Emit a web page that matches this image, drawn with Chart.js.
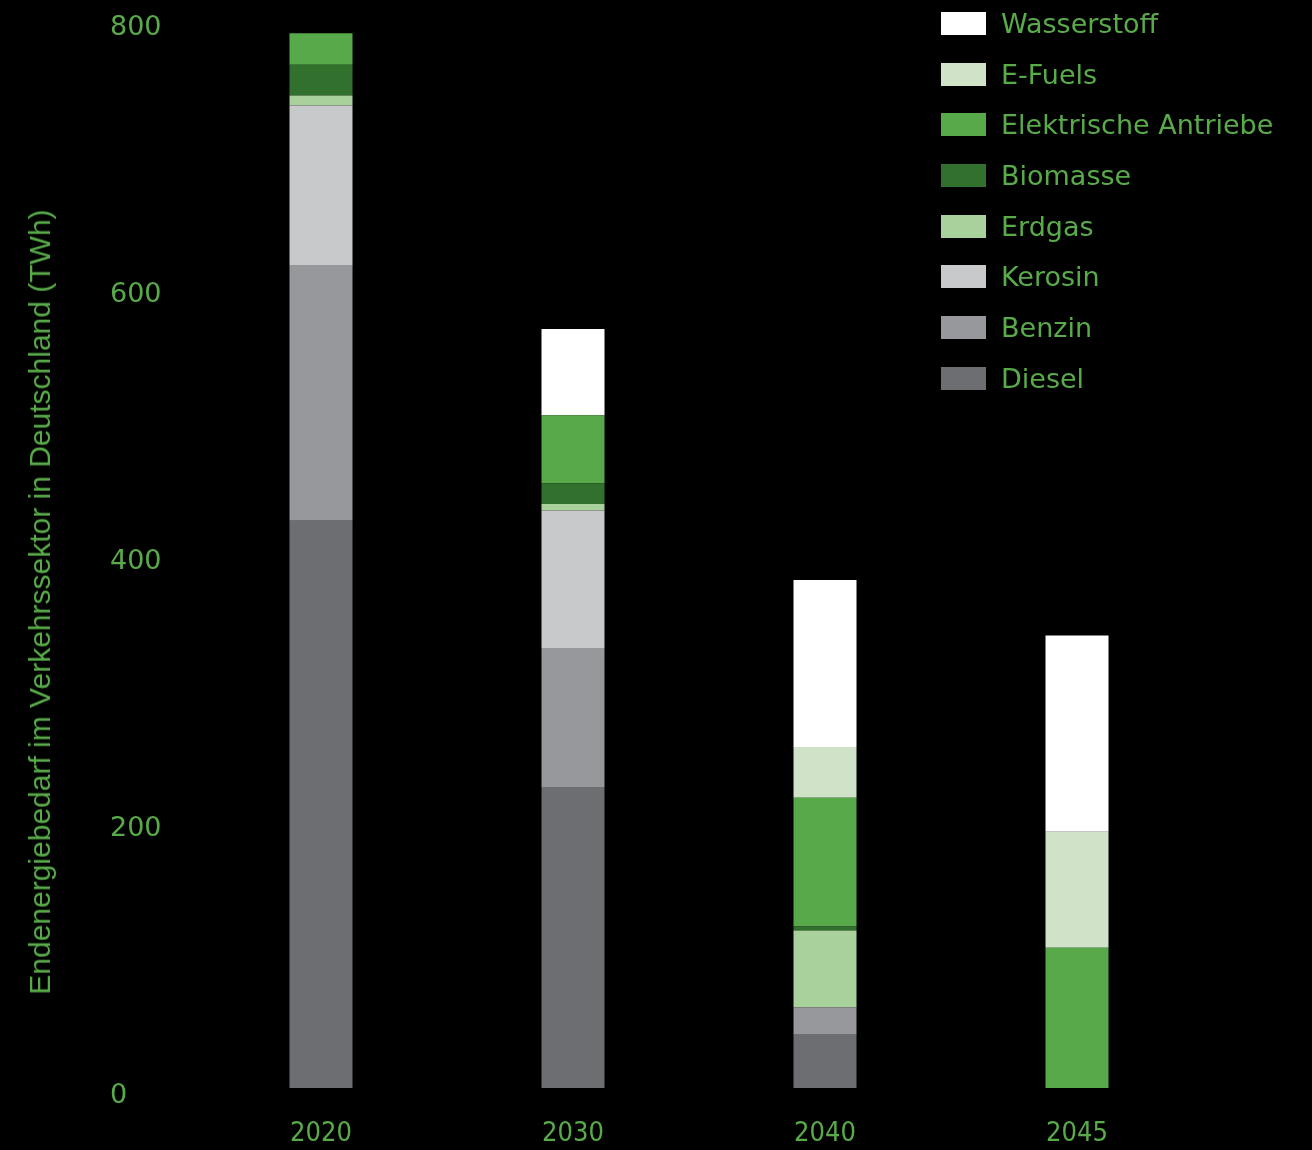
<!DOCTYPE html>
<html>
<head>
<meta charset="utf-8">
<script src="https://cdn.jsdelivr.net/npm/chart.js@4"></script>
<style>
  body { margin: 0; background: #000; }
  #wrap { position: relative; width: 1312px; height: 1150px; }
  #yTitle {
    position: absolute; left: 40px; top: 602px;
    transform: translate(-50%, -50%) rotate(-90deg);
    white-space: nowrap; color: #59ab4a;
    font: 30px "Liberation Sans", sans-serif;
  }
  #legend { position: absolute; left: 941px; top: -2px; }
  .item { display: flex; align-items: center; height: 50.7px; color: #59ab4a; font: 27px "DejaVu Sans", sans-serif; }
  .box { width: 45px; height: 23px; margin-right: 15px; }
</style>
</head>
<body>
<div id="wrap">
  <canvas id="energyChart" width="1312" height="1150"></canvas>
  <div id="yTitle">Endenergiebedarf im Verkehrssektor in Deutschland (TWh)</div>
  <div id="legend"></div>
</div>
<script>
var years = ['2020', '2030', '2040', '2045'];
var yTicks = [0, 200, 400, 600, 800];

// TWh per year, stacked bottom to top
var diesel      = [425, 225.5, 40.5, 0];
var benzin      = [191, 103.5, 20, 0];
var kerosin     = [120, 103.5, 0, 0];
var erdgas      = [7.5, 5, 57.5, 0];
var biomasse    = [23, 15.5, 3, 0];
var elektrisch  = [23.5, 51, 96.5, 105];
var efuels      = [0, 0, 38, 87];
var wasserstoff = [0, 64.5, 125, 147];

var green = '#59ab4a';

var datasets = [
  { label: 'Diesel', data: diesel, backgroundColor: '#6d6e71' },
  { label: 'Benzin', data: benzin, backgroundColor: '#97989c' },
  { label: 'Kerosin', data: kerosin, backgroundColor: '#c8c9cb' },
  { label: 'Erdgas', data: erdgas, backgroundColor: '#a9d19b' },
  { label: 'Biomasse', data: biomasse, backgroundColor: '#31712d' },
  { label: 'Elektrische Antriebe', data: elektrisch, backgroundColor: '#58a94a' },
  { label: 'E-Fuels', data: efuels, backgroundColor: '#d0e3c8' },
  { label: 'Wasserstoff', data: wasserstoff, backgroundColor: '#ffffff' }
];
datasets.forEach(function (d) {
  d.borderWidth = 0;
  d.barPercentage = 0.25;
  d.categoryPercentage = 1;
});

var ctx = document.getElementById('energyChart').getContext('2d');
var energyChart = new Chart(ctx, {
  type: 'bar',
  data: { labels: years, datasets: datasets },
  options: {
    responsive: false,
    animation: false,
    layout: { padding: { left: 110, top: 20, right: 109, bottom: 0 } },
    plugins: { legend: { display: false }, tooltip: { enabled: false } },
    scales: {
      x: {
        stacked: true,
        grid: { display: false, drawTicks: false },
        border: { display: false },
        ticks: { color: green, padding: 30, font: { family: '"DejaVu Sans Condensed", sans-serif', size: 27 } },
        afterFit: function (scale) { scale.height = 62; }
      },
      y: {
        stacked: true,
        min: 0,
        max: 800,
        grid: { display: false, drawTicks: false },
        border: { display: false },
        afterBuildTicks: function (scale) {
          scale.ticks = yTicks.map(function (v) { return { value: v }; });
        },
        ticks: { color: green, crossAlign: 'far', labelOffset: 8, font: { family: '"DejaVu Sans", sans-serif', size: 27 } },
        afterFit: function (scale) { scale.width = 85; }
      }
    }
  }
});

// legend, top entry = top of the stack
var legendEl = document.getElementById('legend');
datasets.slice().reverse().forEach(function (d) {
  var row = document.createElement('div');
  row.className = 'item';
  var box = document.createElement('span');
  box.className = 'box';
  box.style.background = d.backgroundColor;
  var txt = document.createElement('span');
  txt.textContent = d.label;
  row.appendChild(box);
  row.appendChild(txt);
  legendEl.appendChild(row);
});
</script>
</body>
</html>
